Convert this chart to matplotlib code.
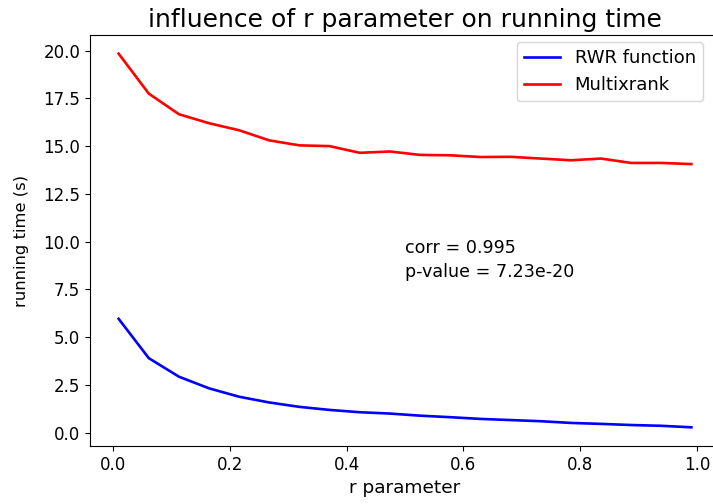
#libraries
import matplotlib.pyplot as plt

plt.rcParams['font.size'] = 12

# r parameter values tested
r_values = [0.01, 0.0616, 0.1132, 0.1647, 0.2163, 0.2679, 0.3195, 0.3711, 0.4226, 0.4742,
            0.5258, 0.5774, 0.6289, 0.6805, 0.7321, 0.7837, 0.8353, 0.8868, 0.9384, 0.99]

# running times in seconds
rwr_time = [5.96, 3.90, 2.93, 2.32, 1.88, 1.58, 1.35, 1.19, 1.07, 1.00,
            0.89, 0.81, 0.72, 0.66, 0.60, 0.51, 0.46, 0.40, 0.36, 0.28]
multixrank_time = [19.84, 17.75, 16.67, 16.20, 15.83, 15.30, 15.04, 15.00, 14.65, 14.72,
                   14.54, 14.52, 14.43, 14.44, 14.35, 14.26, 14.35, 14.12, 14.12, 14.06]

corr = 0.995
p_value = 7.23e-20

fig = plt.figure(figsize=(7.13, 5.04), dpi=100)
# axes run a little past the right edge of the canvas
ax = fig.add_axes([90/713, 58/504, 630/713, 411/504])

ax.plot(r_values, rwr_time, color='blue', linewidth=1.9, label='RWR function')
ax.plot(r_values, multixrank_time, color='red', linewidth=1.9, label='Multixrank')

ax.text(0.5, 8.15, f"corr = {corr}\np-value = {p_value:.2e}", fontsize=12.6, linespacing=1.45)

ax.set_xlabel('r parameter', fontsize=13.3)
ax.set_ylabel('running time (s)', fontsize=11.8, labelpad=10)
ax.set_title('influence of r parameter on running time', fontsize=18)
ax.legend(loc='upper right', fontsize=13, borderaxespad=0,
          bbox_to_anchor=(0.973, 0.983))

plt.savefig('out.png', dpi=100)
